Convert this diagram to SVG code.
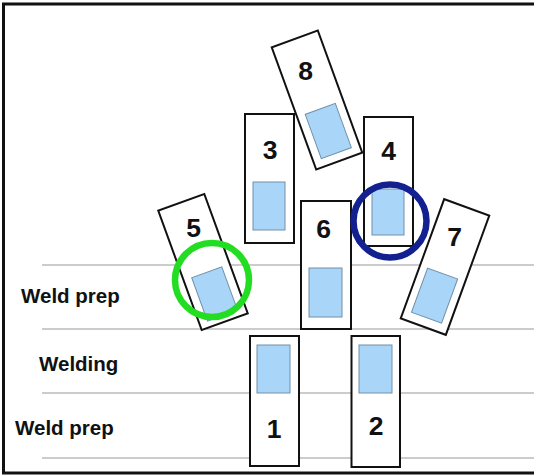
<svg xmlns="http://www.w3.org/2000/svg" width="534" height="475" viewBox="0 0 534 475">
  <style>
    .lane { stroke: #9a9a9a; stroke-width: 1.2; fill: none; }
    .box { fill: #ffffff; stroke: #111111; stroke-width: 2; }
    .part { fill: #a9d5f8; stroke: #7190a8; stroke-width: 1; }
    .num { font-family: "Liberation Sans", Arial, sans-serif; font-weight: bold; font-size: 26.5px; fill: #111111; text-anchor: middle; }
    .lbl { font-family: "Liberation Sans", Arial, sans-serif; font-weight: bold; font-size: 20.5px; fill: #111111; }
    .ring { fill: none; stroke-width: 6.5; }
  </style>
  <rect x="0" y="0" width="534" height="475" fill="#ffffff"/>
  <rect x="3.5" y="4" width="545" height="469" fill="none" stroke="#111111" stroke-width="3"/>

  <g id="lanes">
    <line class="lane" x1="42" y1="265" x2="534" y2="265"/>
    <line class="lane" x1="42" y1="329" x2="534" y2="329"/>
    <line class="lane" x1="42" y1="393" x2="534" y2="393"/>
    <line class="lane" x1="42" y1="458" x2="534" y2="458"/>
  </g>

  <g id="labels">
    <text class="lbl" x="21" y="302.5">Weld prep</text>
    <text class="lbl" x="39" y="371">Welding</text>
    <text class="lbl" x="15" y="434.5">Weld prep</text>
  </g>

  <g id="node-8">
    <g transform="translate(317,100) rotate(-20)">
      <rect class="box" x="-24.5" y="-65" width="49" height="130"/>
      <rect class="part" x="-16" y="9.5" width="32" height="47"/>
    </g>
    <text class="num" x="305.5" y="80">8</text>
  </g>

  <g id="node-3">
    <rect class="box" x="245" y="114" width="49" height="129"/>
    <rect class="part" x="253" y="182" width="32" height="48"/>
    <text class="num" x="270" y="158.5">3</text>
  </g>

  <g id="node-4">
    <rect class="box" x="364" y="117" width="49" height="129"/>
    <rect class="part" x="372" y="189" width="32" height="46"/>
    <text class="num" x="388.5" y="159.5">4</text>
  </g>

  <g id="node-6">
    <rect class="box" x="301" y="201" width="50" height="128"/>
    <rect class="part" x="309" y="268" width="33" height="49"/>
    <text class="num" x="323.5" y="237.5">6</text>
  </g>

  <g id="node-5">
    <g transform="translate(203,262) rotate(-20)">
      <rect class="box" x="-24.5" y="-63.5" width="49" height="127"/>
      <rect class="part" x="-16" y="11" width="32" height="46"/>
    </g>
    <text class="num" x="193.5" y="237">5</text>
  </g>

  <g id="node-7">
    <g transform="translate(445,267) rotate(20)">
      <rect class="box" x="-24" y="-63.5" width="48" height="127"/>
      <rect class="part" x="-16" y="7" width="32" height="47"/>
    </g>
    <text class="num" x="454.5" y="245.5">7</text>
  </g>

  <g id="node-1">
    <rect class="box" x="250" y="336" width="49" height="130"/>
    <rect class="part" x="257" y="345" width="33" height="48"/>
    <text class="num" x="274" y="438">1</text>
  </g>

  <g id="node-2">
    <rect class="box" x="351.5" y="336" width="48.5" height="131"/>
    <rect class="part" x="359" y="345" width="33" height="48"/>
    <text class="num" x="376" y="435">2</text>
  </g>

  <g id="highlights">
    <circle class="ring" cx="212" cy="280" r="37" stroke="#22dd22"/>
    <circle class="ring" cx="390" cy="221" r="36.5" stroke="#13208f"/>
  </g>
</svg>
